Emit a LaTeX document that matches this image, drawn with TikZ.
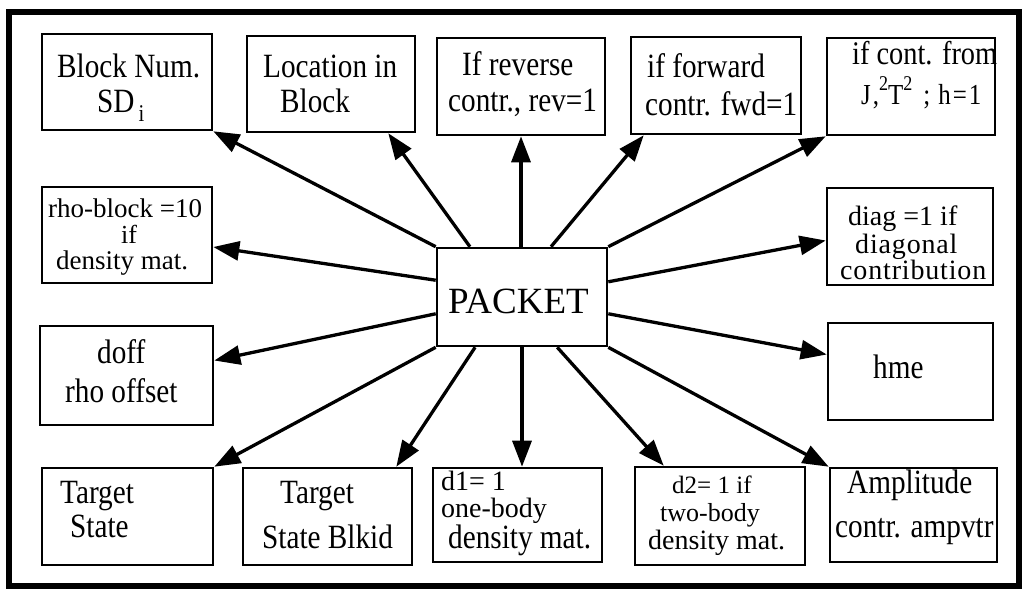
\documentclass[tikz,border=0pt]{standalone}
\usepackage{fontspec}
\setmainfont{Liberation Serif}[FakeStretch=0.86]
\newfontfamily\headfont{Liberation Serif}
\newfontfamily\plainfont{Liberation Serif}
\newfontfamily\widefont{Liberation Serif}[LetterSpace=3]
\usetikzlibrary{arrows.meta}

\begin{document}
\begin{tikzpicture}[x=1pt,y=-1pt,
  box/.style={draw, line width=2.6pt, inner sep=0pt},
  t/.style={anchor=base west, inner sep=0pt, font=\fontsize{34}{34}\selectfont},
  tc/.style={t, anchor=base},
  tn/.style={t, font=\plainfont\fontsize{28}{28}\selectfont},
  tw/.style={t, font=\widefont\fontsize{28}{28}\selectfont},
  arr/.style={line width=3.3pt, -{Triangle[length=26pt,width=19pt]}}]
\useasboundingbox (0,0) rectangle (1024,592);

% outer frame
\draw[line width=6pt] (8.5,11.5) rectangle (1019,585.5);

% ---------- texts ----------
\node[t] (blkA) at (57,77) {Block Num.};
\node[t] (blkB) at (97,112) {SD\hspace{4pt}\raisebox{-9pt}{\fontsize{24}{24}\selectfont i}};

\node[t] (locA) at (263,77) {Location in};
\node[t] (locB) at (280,112) {Block};

\node[t] (revA) at (462,75) {If reverse};
\node[t] (revB) at (448,111) {contr., rev=1};

\node[t] (fwdA) at (647,77) {if forward};
\node[t] (fwdB) at (645,115) {contr. fwd=1};

\node[t, font=\fontsize{33}{33}\selectfont] (contA) at (852,64) {if cont. from};
\node[t, font=\fontsize{29}{29}\selectfont] (contB) at (861,104)
  {J\hspace{2pt},\raisebox{14pt}{\fontsize{21}{21}\selectfont 2}T\raisebox{14pt}{\fontsize{21}{21}\selectfont 2}\hspace{11pt};\hspace{8pt}h\hspace{2pt}=\hspace{2pt}1};

\node[tn, font=\plainfont\fontsize{27}{27}\selectfont] (rhoA) at (48,217) {rho-block =10};
\node[tn, font=\plainfont\fontsize{26}{26}\selectfont, anchor=base] (rhoB) at (129,243) {if};
\node[tn, font=\plainfont\fontsize{27}{27}\selectfont] (rhoC) at (56,269) {density mat.};

\node[tn] (diagA) at (848,225) {diag =1 if};
\node[tw] (diagB) at (855,253) {diagonal};
\node[tw] (diagC) at (840,279) {contribution};

\node[t] (doffA) at (97,363) {doff};
\node[t] (doffB) at (65,402) {rho offset};

\node[t] (hmeA) at (873,378) {hme};

\node[t] (tsA) at (60,503) {Target};
\node[t] (tsB) at (70,537) {State};

\node[t] (tsbA) at (280,503) {Target};
\node[t] (tsbB) at (262,548) {State Blkid};

\node[tn] (doneA) at (441,490) {d1= 1};
\node[tn] (doneB) at (441,517) {one-body};
\node[t] (doneC) at (448,548) {density mat.};

\node[tn, font=\plainfont\fontsize{25}{25}\selectfont] (dtwoA) at (672,493) {d2= 1 if};
\node[tn, font=\plainfont\fontsize{26}{26}\selectfont] (dtwoB) at (660,521) {two-body};
\node[tn, font=\plainfont\fontsize{28}{28}\selectfont] (dtwoC) at (648,549) {density mat.};

\node[t] (ampA) at (847,493) {Amplitude};
\node[t] (ampB) at (835,537) {contr. ampvtr};

\node[t, font=\headfont\fontsize{37}{37}\selectfont] (pkA) at (448,313) {PACKET};

% ---------- boxes ----------
\node[box, minimum width=170pt, minimum height=96pt] (blk)  at (127,82) {};
\node[box, minimum width=168pt, minimum height=96pt] (loc)  at (331,84) {};
\node[box, minimum width=168pt, minimum height=97pt] (rev)  at (521,86.5) {};
\node[box, minimum width=170pt, minimum height=97pt] (fwd)  at (716,85.5) {};
\node[box, minimum width=168pt, minimum height=97pt] (cont) at (911,86.5) {};

\node[box, minimum width=170pt, minimum height=96pt] (rho)  at (127,235) {};
\node[box, minimum width=166pt, minimum height=97pt] (diag) at (910,236.5) {};

\node[box, minimum width=173pt, minimum height=99pt] (doff) at (126.5,375.5) {};
\node[box, minimum width=165pt, minimum height=97pt] (hme)  at (910.5,371.5) {};

\node[box, minimum width=171pt, minimum height=97pt] (ts)   at (127.5,516.5) {};
\node[box, minimum width=169pt, minimum height=97pt] (tsb)  at (327.5,516.5) {};
\node[box, minimum width=169pt, minimum height=94pt] (done) at (517.5,515) {};
\node[box, minimum width=170pt, minimum height=98pt] (dtwo) at (720,516) {};
\node[box, minimum width=167pt, minimum height=94pt] (amp)  at (913.5,515) {};

\node[box, minimum width=170pt, minimum height=98pt] (pk)   at (522,297) {};

% ---------- connectors ----------
\draw[arr] (pk.north west) -- (blk.south east);
\draw[arr] (pk.136.7) -- ([xshift=-28pt]loc.south east);
\draw[arr] (pk.north -| rev.south) -- (rev.south);
\draw[arr] (pk.60.3) -- ([xshift=14pt]fwd.south west);
\draw[arr] (pk.north east) -- (cont.south west);

\draw[arr] (pk.169.3) -- ([yshift=-12pt]rho.east);
\draw[arr] (pk.191.9) -- ([yshift=15pt]doff.east);
\draw[arr] (pk.10) -- ([yshift=-4pt]diag.west);
\draw[arr] (pk.349.3) -- ([yshift=17pt]hme.west);

\draw[arr] (pk.south west) -- (ts.north east);
\draw[arr] (pk.227.4) -- ([xshift=-17pt]tsb.north east);
\draw[arr] (pk.south) -- (pk.south |- done.north);
\draw[arr] (pk.305.5) -- ([xshift=30pt]dtwo.north west);
\draw[arr] (pk.south east) -- (amp.north west);
\end{tikzpicture}
\end{document}
